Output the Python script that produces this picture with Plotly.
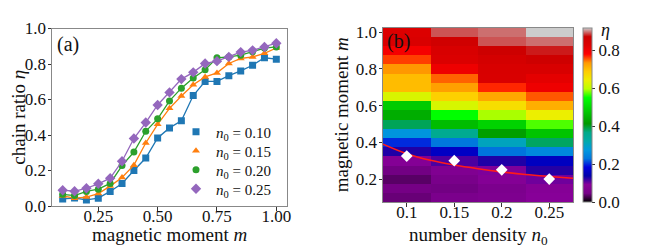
import plotly.graph_objects as go

# ---------------- data ----------------
m_vals = [0.10, 0.15, 0.20, 0.25, 0.30, 0.35, 0.40, 0.45, 0.50, 0.55,
          0.60, 0.65, 0.70, 0.75, 0.80, 0.85, 0.90, 0.95, 1.00]
n0_vals = [0.10, 0.15, 0.20, 0.25]
n0_labels = ["0.1", "0.15", "0.2", "0.25"]

eta_n010 = [0.040, 0.045, 0.034, 0.044, 0.082, 0.127, 0.200, 0.270, 0.383, 0.440,
            0.480, 0.622, 0.702, 0.702, 0.734, 0.761, 0.793, 0.835, 0.827]
eta_n015 = [0.057, 0.044, 0.050, 0.070, 0.112, 0.161, 0.230, 0.355, 0.460, 0.550,
            0.620, 0.683, 0.727, 0.750, 0.803, 0.831, 0.840, 0.860, 0.890]
eta_n020 = [0.066, 0.059, 0.082, 0.095, 0.127, 0.228, 0.304, 0.421, 0.491, 0.592,
            0.664, 0.721, 0.768, 0.835, 0.840, 0.850, 0.869, 0.890, 0.896]
eta_n025 = [0.089, 0.083, 0.100, 0.125, 0.157, 0.252, 0.380, 0.470, 0.569, 0.640,
            0.715, 0.753, 0.803, 0.816, 0.840, 0.867, 0.877, 0.896, 0.917]

series = [
    ("0.10", eta_n010, "#1f77b4", "square"),
    ("0.15", eta_n015, "#ff7f0e", "triangle-up"),
    ("0.20", eta_n020, "#2ca02c", "circle"),
    ("0.25", eta_n025, "#9467bd", "diamond"),
]

# critical m (white diamonds) and fitted curve (red) in panel (b)
crit_n0 = [0.10, 0.15, 0.20, 0.25]
crit_m = [0.325, 0.300, 0.250, 0.200]
fit_n0 = [0.075, 0.100, 0.125, 0.150, 0.175, 0.200, 0.225, 0.250, 0.275]
fit_m = [0.390, 0.338, 0.302, 0.276, 0.256, 0.239, 0.225, 0.214, 0.204]

# matplotlib nipy_spectral colormap
nipy = [
    (0.00, (0.0, 0.0, 0.0)), (0.05, (0.4667, 0.0, 0.5333)), (0.10, (0.5333, 0.0, 0.6)),
    (0.15, (0.0, 0.0, 0.6667)), (0.20, (0.0, 0.0, 0.8667)), (0.25, (0.0, 0.4667, 0.8667)),
    (0.30, (0.0, 0.6, 0.8667)), (0.35, (0.0, 0.6667, 0.6667)), (0.40, (0.0, 0.6667, 0.5333)),
    (0.45, (0.0, 0.6, 0.0)), (0.50, (0.0, 0.7333, 0.0)), (0.55, (0.0, 0.8667, 0.0)),
    (0.60, (0.0, 1.0, 0.0)), (0.65, (0.7333, 1.0, 0.0)), (0.70, (0.9333, 0.9333, 0.0)),
    (0.75, (1.0, 0.8, 0.0)), (0.80, (1.0, 0.6, 0.0)), (0.85, (1.0, 0.0, 0.0)),
    (0.90, (0.8667, 0.0, 0.0)), (0.95, (0.8, 0.0, 0.0)), (1.00, (0.8, 0.8, 0.8)),
]
colorscale = [[p, "rgb(%d,%d,%d)" % tuple(round(c * 255) for c in rgb)] for p, rgb in nipy]

FONT = "Liberation Serif"
# the page body has an 8px margin: the figure starts at (8, 8) in the window
OFF = 8
W, H = 648 - OFF, 249 - OFF
FS = 17      # tick font size
LS = 15      # legend font size
TS = 19      # axis title font size


def px(X):   # window pixel column -> paper x
    return (X - OFF) / W


def py(Y):   # window pixel row -> paper y
    return 1 - (Y - OFF) / H


z = [[eta_n010[i], eta_n015[i], eta_n020[i], eta_n025[i]] for i in range(len(m_vals))]
zmax = max(max(r) for r in z)

fig = go.Figure()

legend_names = ["legend", "legend2", "legend3", "legend4"]
legend_rows = [132, 151, 170, 189]   # window rows of legend entries

for (name, ys, col, sym), lg in zip(series, legend_names):
    msize = 8 if sym == "diamond" else 7
    fig.add_trace(go.Scatter(
        x=m_vals, y=ys, mode="lines+markers", showlegend=False,
        line=dict(color=col, width=1.3),
        marker=dict(symbol=sym, size=msize, color=col),
        xaxis="x", yaxis="y",
    ))
    # legend entry: marker only (as in the reference legend)
    fig.add_trace(go.Scatter(
        x=[None], y=[None], mode="markers", legend=lg,
        name="<i>n</i><sub>0</sub> = " + name,
        marker=dict(symbol=sym, size=msize, color=col),
        xaxis="x", yaxis="y",
    ))

fig.add_trace(go.Heatmap(
    x=n0_vals, y=m_vals, z=z, colorscale=colorscale, zmin=0, zmax=zmax,
    xaxis="x2", yaxis="y2", showscale=True,
    colorbar=dict(
        x=px(583), xanchor="left", y=py(202), yanchor="bottom",
        len=174 / H, lenmode="fraction", thickness=9, xpad=0, ypad=0,
        outlinecolor="#888", outlinewidth=1,
        tickvals=[0, 0.2, 0.4, 0.6, 0.8], ticktext=["0.0", "0.2", "0.4", "0.6", "0.8"],
        ticks="outside", ticklen=3, tickcolor="#333",
        tickfont=dict(family=FONT, size=FS, color="#111"),
    ),
    showlegend=False,
))

fig.add_trace(go.Scatter(
    x=fit_n0, y=fit_m, mode="lines", line=dict(color="#ff1a1a", width=1.6, shape="spline"),
    xaxis="x2", yaxis="y2", showlegend=False,
))
fig.add_trace(go.Scatter(
    x=crit_n0, y=crit_m, mode="markers",
    marker=dict(symbol="diamond", size=9, color="white"),
    xaxis="x2", yaxis="y2", showlegend=False,
))

axis_common = dict(
    showline=True, linecolor="#888", linewidth=1, mirror=True,
    ticks="outside", ticklen=3.5, tickcolor="#333",
    showgrid=False, zeroline=False, automargin=False,
    tickfont=dict(family=FONT, size=FS, color="#111"),
)

legend_layout = {}
for lg, row in zip(legend_names, legend_rows):
    legend_layout[lg] = dict(
        x=px(176), y=py(row), xanchor="left", yanchor="middle",
        bgcolor="rgba(0,0,0,0)", font=dict(family=FONT, size=LS, color="#111"),
        itemwidth=30,
    )

fig.update_layout(
    width=W, height=H,
    margin=dict(l=0, r=0, t=0, b=0, pad=0, autoexpand=False),
    paper_bgcolor="white", plot_bgcolor="white",
    font=dict(family=FONT, color="#111", size=FS),
    showlegend=True,
    **legend_layout,
    xaxis=dict(
        domain=[px(52), px(287)], range=[0.055, 1.045],
        tickvals=[0.25, 0.5, 0.75, 1.0], ticktext=["0.25", "0.50", "0.75", "1.00"],
        ticklabelstandoff=-9,
        anchor="y", **axis_common,
    ),
    yaxis=dict(
        domain=[py(206), py(28.5)], range=[0, 1],
        tickvals=[0, 0.2, 0.4, 0.6, 0.8, 1.0], ticktext=["0.0", "0.2", "0.4", "0.6", "0.8", "1.0"],
        ticklabelstandoff=-2,
        title=dict(text="chain ratio <i>η</i>", font=dict(family=FONT, size=TS), standoff=3),
        anchor="x", **axis_common,
    ),
    xaxis2=dict(
        domain=[px(383), px(573)], range=[0.075, 0.275],
        tickvals=n0_vals, ticktext=n0_labels,
        ticklabelstandoff=-9,
        anchor="y2", **axis_common,
    ),
    yaxis2=dict(
        domain=[py(202), py(27.5)], range=[0.075, 1.025],
        tickvals=[0.2, 0.4, 0.6, 0.8, 1.0], ticktext=["0.2", "0.4", "0.6", "0.8", "1.0"],
        ticklabelstandoff=-2,
        title=dict(text="magnetic moment <i>m</i>", font=dict(family=FONT, size=TS), standoff=2),
        anchor="x2", **axis_common,
    ),
    annotations=[
        dict(text="magnetic moment <i>m</i>", x=0.5, y=py(234.5), xref="x domain", yref="paper",
             xanchor="center", yanchor="middle", showarrow=False,
             font=dict(family=FONT, size=TS, color="#111")),
        dict(text="number density <i>n</i><sub>0</sub>", x=0.5, y=py(236), xref="x2 domain", yref="paper",
             xanchor="center", yanchor="middle", showarrow=False,
             font=dict(family=FONT, size=TS, color="#111")),
        dict(text="(a)", x=0.012, y=0.985, xref="x domain", yref="y domain",
             xanchor="left", yanchor="top", showarrow=False,
             font=dict(family=FONT, size=20, color="#111")),
        dict(text="(b)", x=0.012, y=0.995, xref="x2 domain", yref="y2 domain",
             xanchor="left", yanchor="top", showarrow=False,
             font=dict(family=FONT, size=20, color="#111")),
        dict(text="<i>η</i>", x=px(605), y=py(30), xref="paper", yref="paper",
             xanchor="center", yanchor="middle", showarrow=False,
             font=dict(family=FONT, size=18, color="#111")),
    ],
)

fig.write_html("out.html")
